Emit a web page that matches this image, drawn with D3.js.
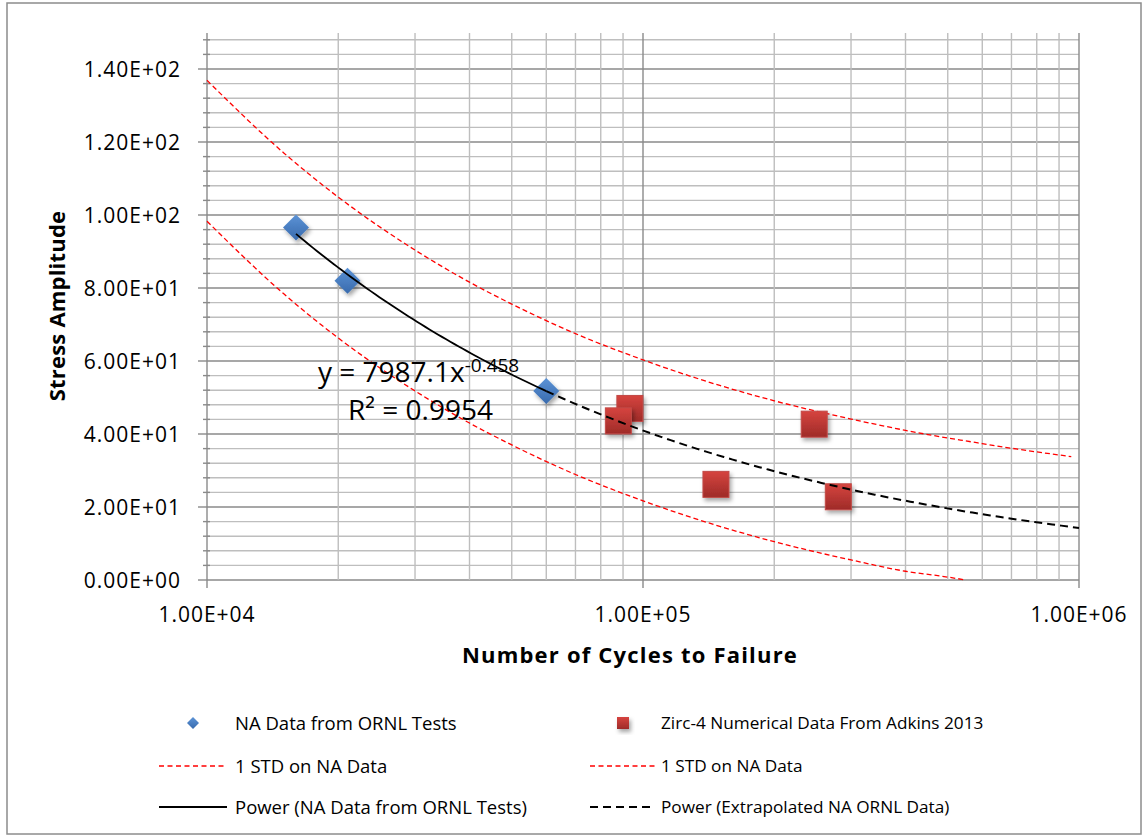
<!DOCTYPE html>
<html>
<head>
<meta charset="utf-8">
<script src="https://cdn.jsdelivr.net/npm/d3@7"></script>
<style>
  body { margin: 0; background: #fff; }
  text { font-family: "Open Sans", sans-serif; fill: #000; }
</style>
</head>
<body>
<script>
// measured data
var naCycles = [16000, 21000, 60000];
var naStress = [96.6, 82.0, 51.8];

var zircCycles = [93300, 87800, 147000, 247000, 280500];
var zircStress = [47.0, 43.6, 26.2, 42.7, 22.8];

var stdCycles = [10000, 15000, 20000, 30000, 40000, 50000, 70000, 100000, 150000, 200000, 300000, 400000, 500000, 550000, 700000, 960000];
var stdUpper  = [136.9, 117.0, 104.9, 90.4, 81.6, 75.6, 67.5, 60.3, 53.3, 49.1, 44.1, 41.0, 38.9, 38.1, 36.1, 33.8];
var stdLower  = [98.3, 78.4, 66.3, 51.8, 43.0, 37.0, 28.9, 21.7, 14.7, 10.5, 5.5, 2.4, 0.8, 0.0, null, null];

// trendline shown on the chart: y = 7987.1x^-0.458
var trendA = 7987.1;
var trendB = -0.458;
var trendStart = 16000, trendSplit = 60000, trendEnd = 1000000;

var yTicks = [0, 20, 40, 60, 80, 100, 120, 140];
var yTickLabels = ["0.00E+00", "2.00E+01", "4.00E+01", "6.00E+01", "8.00E+01", "1.00E+02", "1.20E+02", "1.40E+02"];
var xTicks = [1e4, 1e5, 1e6];
var xTickLabels = ["1.00E+04", "1.00E+05", "1.00E+06"];

var W = 1145, H = 837;

var svg = d3.select("body").append("svg")
    .attr("width", W)
    .attr("height", H);

var defs = svg.append("defs");
var blueGrad = defs.append("linearGradient").attr("id", "blueGrad")
    .attr("x1", 0).attr("y1", 0).attr("x2", 0).attr("y2", 1);
blueGrad.append("stop").attr("offset", "0%").attr("stop-color", "#5c93d6");
blueGrad.append("stop").attr("offset", "100%").attr("stop-color", "#386aad");
var redGrad = defs.append("linearGradient").attr("id", "redGrad")
    .attr("x1", 0).attr("y1", 0).attr("x2", 0).attr("y2", 1);
redGrad.append("stop").attr("offset", "0%").attr("stop-color", "#d6443f");
redGrad.append("stop").attr("offset", "100%").attr("stop-color", "#9e2b28");
var shadow = defs.append("filter").attr("id", "shadow")
    .attr("x", "-50%").attr("y", "-50%").attr("width", "200%").attr("height", "200%");
shadow.append("feDropShadow").attr("dx", 2).attr("dy", 3)
    .attr("stdDeviation", 2).attr("flood-color", "#000").attr("flood-opacity", 0.35);

// chart border
svg.append("rect")
    .attr("x", 7).attr("y", 3)
    .attr("width", 1134).attr("height", 831)
    .attr("fill", "#fff")
    .attr("stroke", "#8c8c8c")
    .attr("stroke-width", 1.5);

var x = d3.scaleLog().domain([1e4, 1e6]).range([207, 1079]);
var y = d3.scaleLinear().domain([0, 148]).range([580, 39.8]);

// horizontal grid, minor every 4 and major every 20
var hLines = d3.range(0, 149, 4);
svg.append("g").selectAll("line")
    .data(hLines)
    .join("line")
    .attr("x1", 207).attr("x2", 1079)
    .attr("y1", d => y(d)).attr("y2", d => y(d))
    .attr("stroke", d => d % 20 == 0 ? "#8a8a8a" : "#bebebe")
    .attr("stroke-width", 1.4);

// vertical grid
var vLines = [];
[1e4, 1e5].forEach(function(dec) {
    for (var m = 1; m <= 9; m++) vLines.push(dec * m);
});
vLines.push(1e6);
svg.append("g").selectAll("line")
    .data(vLines)
    .join("line")
    .attr("x1", d => x(d)).attr("x2", d => x(d))
    .attr("y1", 33)
    .attr("y2", d => xTicks.indexOf(d) >= 0 ? 588 : 580)
    .attr("stroke", d => xTicks.indexOf(d) >= 0 ? "#8a8a8a" : "#bebebe")
    .attr("stroke-width", 1.4);

// y axis ticks
svg.append("g").selectAll("line")
    .data(hLines)
    .join("line")
    .attr("x1", d => d % 20 == 0 ? 198 : 203)
    .attr("x2", d => d % 20 == 0 ? 207 : 210)
    .attr("y1", d => y(d)).attr("y2", d => y(d))
    .attr("stroke", "#8a8a8a")
    .attr("stroke-width", 1.4);

svg.append("g").selectAll("text")
    .data(yTicks)
    .join("text")
    .attr("x", 181)
    .attr("y", d => y(d) + 7.5)
    .attr("text-anchor", "end")
    .attr("font-size", 21)
    .attr("letter-spacing", 1)
    .text((d, i) => yTickLabels[i]);

svg.append("g").selectAll("text")
    .data(xTicks)
    .join("text")
    .attr("x", d => x(d))
    .attr("y", 622)
    .attr("text-anchor", "middle")
    .attr("font-size", 21)
    .attr("letter-spacing", 1)
    .text((d, i) => xTickLabels[i]);

// axis titles
svg.append("text")
    .attr("x", 630).attr("y", 663)
    .attr("text-anchor", "middle")
    .attr("font-size", 22)
    .attr("font-weight", "bold")
    .attr("letter-spacing", 1.2)
    .text("Number of Cycles to Failure");

svg.append("text")
    .attr("transform", "translate(65,306) rotate(-90)")
    .attr("text-anchor", "middle")
    .attr("font-size", 22)
    .attr("font-weight", "bold")
    .attr("letter-spacing", 0.2)
    .text("Stress Amplitude");

// 1 STD lines
var stdLine = d3.line()
    .defined(d => d[1] != null)
    .x(d => x(d[0]))
    .y(d => y(d[1]))
    .curve(d3.curveMonotoneX);

[stdUpper, stdLower].forEach(function(vals) {
    svg.append("path")
        .attr("d", stdLine(stdCycles.map((c, i) => [c, vals[i]])))
        .attr("fill", "none")
        .attr("stroke", "#ff0000")
        .attr("stroke-width", 1.3)
        .attr("stroke-dasharray", "5,3");
});

// zirc-4 squares
var sq = 26;
svg.append("g").selectAll("rect")
    .data(zircCycles)
    .join("rect")
    .attr("x", d => x(d) - sq / 2)
    .attr("y", (d, i) => y(zircStress[i]) - sq / 2)
    .attr("width", sq).attr("height", sq)
    .attr("fill", "url(#redGrad)")
    .attr("stroke", "#c24a47")
    .attr("stroke-width", 1)
    .attr("filter", "url(#shadow)");

// NA diamonds
var dm = 13;
svg.append("g").selectAll("path")
    .data(naCycles)
    .join("path")
    .attr("d", (d, i) => {
        var cx = x(d), cy = y(naStress[i]);
        return "M" + cx + "," + (cy - dm) + "L" + (cx + dm) + "," + cy +
            "L" + cx + "," + (cy + dm) + "L" + (cx - dm) + "," + cy + "Z";
    })
    .attr("fill", "url(#blueGrad)")
    .attr("filter", "url(#shadow)");

// trendlines
function trendPts(a, b) {
    var lx = d3.range(0, 61).map(k => Math.log10(a) + (Math.log10(b) - Math.log10(a)) * k / 60);
    return lx.map(v => [Math.pow(10, v), trendA * Math.pow(Math.pow(10, v), trendB)]);
}
var tline = d3.line().x(d => x(d[0])).y(d => y(d[1]));

svg.append("path")
    .attr("d", tline(trendPts(trendStart, trendSplit)))
    .attr("fill", "none")
    .attr("stroke", "#000")
    .attr("stroke-width", 1.8);

svg.append("path")
    .attr("d", tline(trendPts(trendSplit, trendEnd)))
    .attr("fill", "none")
    .attr("stroke", "#000")
    .attr("stroke-width", 2)
    .attr("stroke-dasharray", "8,5");

// equation label
var eq = svg.append("text")
    .attr("x", 318).attr("y", 382)
    .attr("font-size", 28);
eq.append("tspan").text("y = 7987.1x");
eq.append("tspan").attr("font-size", 19).attr("dy", -10).text("-0.458");

svg.append("text")
    .attr("x", 348).attr("y", 420)
    .attr("font-size", 28)
    .text("R² = 0.9954");

// legend
var lg = svg.append("g").attr("font-size", 18.5);
var rows = [723, 766, 807];

lg.append("path")
    .attr("d", "M193,717L199,723L193,729L187,723Z")
    .attr("fill", "url(#blueGrad)");
lg.append("text").attr("x", 235).attr("y", rows[0] + 6.5).text("NA Data from ORNL Tests");

lg.append("rect")
    .attr("x", 617).attr("y", 717).attr("width", 12).attr("height", 12)
    .attr("fill", "url(#redGrad)")
    .attr("filter", "url(#shadow)");
lg.append("text").attr("x", 661).attr("y", rows[0] + 6).attr("font-size", 17.2)
    .text("Zirc-4 Numerical Data From Adkins 2013");

lg.append("line").attr("x1", 159).attr("x2", 227).attr("y1", rows[1]).attr("y2", rows[1])
    .attr("stroke", "#ff0000").attr("stroke-width", 1.3).attr("stroke-dasharray", "5,3.5");
lg.append("text").attr("x", 235).attr("y", rows[1] + 6.5).text("1 STD on NA Data");

lg.append("line").attr("x1", 590).attr("x2", 655).attr("y1", rows[1]).attr("y2", rows[1])
    .attr("stroke", "#ff0000").attr("stroke-width", 1.3).attr("stroke-dasharray", "5,3.5");
lg.append("text").attr("x", 661).attr("y", rows[1] + 6).attr("font-size", 17.2)
    .text("1 STD on NA Data");

lg.append("line").attr("x1", 159).attr("x2", 227).attr("y1", rows[2]).attr("y2", rows[2])
    .attr("stroke", "#000").attr("stroke-width", 1.8);
lg.append("text").attr("x", 235).attr("y", rows[2] + 6.5).text("Power (NA Data from ORNL Tests)");

lg.append("line").attr("x1", 590).attr("x2", 655).attr("y1", rows[2]).attr("y2", rows[2])
    .attr("stroke", "#000").attr("stroke-width", 1.8).attr("stroke-dasharray", "8,5");
lg.append("text").attr("x", 661).attr("y", rows[2] + 6).attr("font-size", 17.2)
    .text("Power (Extrapolated NA ORNL Data)");
</script>
</body>
</html>
